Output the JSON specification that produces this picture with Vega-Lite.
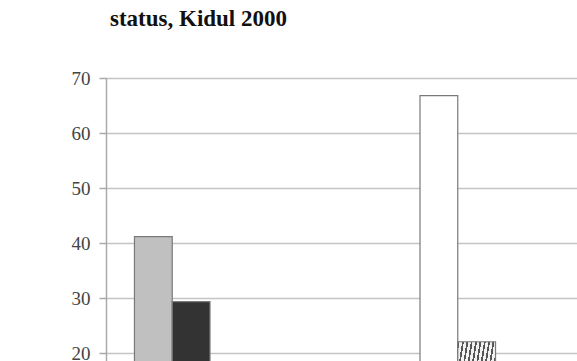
{
  "$schema": "https://vega.github.io/schema/vega-lite/v6.json",
  "autosize": "none",
  "width": 471,
  "height": 283,
  "padding": {"left": 106, "top": 78, "right": 0, "bottom": 0},
  "background": "white",
  "title": {
    "text": "status, Kidul 2000",
    "anchor": "start",
    "frame": "group",
    "font": "Liberation Serif",
    "fontSize": 23,
    "fontWeight": "bold",
    "color": "#111",
    "baseline": "alphabetic",
    "offset": 20,
    "dx": 4
  },
  "data": {
    "values": [
      {"group": "A", "series": "s1", "value": 41.2},
      {"group": "A", "series": "s2", "value": 29.4},
      {"group": "B", "series": "s3", "value": 66.8},
      {"group": "B", "series": "s4", "value": 22.1}
    ]
  },
  "config": {"view": {"stroke": null}},
  "encoding": {
    "x": {
      "field": "group",
      "type": "nominal",
      "scale": {"domain": ["A", "B", "C"], "range": [-1, 629], "paddingInner": 0, "paddingOuter": 0},
      "axis": null
    },
    "xOffset": {
      "field": "series",
      "type": "nominal",
      "scale": {"domain": ["s1", "s2", "s3", "s4"], "paddingInner": 0, "paddingOuter": 0.78}
    },
    "y": {
      "field": "value",
      "type": "quantitative",
      "scale": {"domain": [18.6, 70], "nice": false, "zero": false},
      "axis": {
        "title": null,
        "values": [20, 30, 40, 50, 60, 70],
        "grid": true,
        "gridColor": "#c4c4c4",
        "gridWidth": 1.5,
        "domainColor": "#aaaaaa",
        "domainWidth": 1.5,
        "tickColor": "#aaaaaa",
        "tickWidth": 1.5,
        "tickSize": 7,
        "labelPadding": 9,
        "labelFont": "Liberation Serif",
        "labelFontSize": 19,
        "labelColor": "#444444"
      }
    }
  },
  "layer": [
    {
      "transform": [{"filter": "datum.series != 's4'"}],
      "mark": {"type": "bar", "clip": true, "stroke": "#7a7a7a", "strokeWidth": 1.2},
      "encoding": {
        "color": {
          "field": "series",
          "type": "nominal",
          "scale": {"domain": ["s1", "s2", "s3", "s4"], "range": ["#c0c0c0", "#333333", "#ffffff", "#9a9a9a"]},
          "legend": null
        }
      }
    },
    {
      "transform": [{"filter": "datum.series == 's4'"}],
      "mark": {
        "type": "bar",
        "clip": true,
        "stroke": "#7a7a7a",
        "strokeWidth": 1.2,
        "fill": {
          "gradient": "linear",
          "x1": 0, "y1": 0, "x2": 1.2, "y2": 0.6,
          "stops": [
            {"offset": 0, "color": "#555555"}, {"offset": 0.031, "color": "#555555"}, {"offset": 0.031, "color": "#f2f2f2"}, {"offset": 0.077, "color": "#f2f2f2"},
            {"offset": 0.077, "color": "#555555"}, {"offset": 0.108, "color": "#555555"}, {"offset": 0.108, "color": "#f2f2f2"}, {"offset": 0.154, "color": "#f2f2f2"},
            {"offset": 0.154, "color": "#555555"}, {"offset": 0.185, "color": "#555555"}, {"offset": 0.185, "color": "#f2f2f2"}, {"offset": 0.231, "color": "#f2f2f2"},
            {"offset": 0.231, "color": "#555555"}, {"offset": 0.262, "color": "#555555"}, {"offset": 0.262, "color": "#f2f2f2"}, {"offset": 0.308, "color": "#f2f2f2"},
            {"offset": 0.308, "color": "#555555"}, {"offset": 0.339, "color": "#555555"}, {"offset": 0.339, "color": "#f2f2f2"}, {"offset": 0.385, "color": "#f2f2f2"},
            {"offset": 0.385, "color": "#555555"}, {"offset": 0.415, "color": "#555555"}, {"offset": 0.415, "color": "#f2f2f2"}, {"offset": 0.462, "color": "#f2f2f2"},
            {"offset": 0.462, "color": "#555555"}, {"offset": 0.492, "color": "#555555"}, {"offset": 0.492, "color": "#f2f2f2"}, {"offset": 0.538, "color": "#f2f2f2"},
            {"offset": 0.538, "color": "#555555"}, {"offset": 0.569, "color": "#555555"}, {"offset": 0.569, "color": "#f2f2f2"}, {"offset": 0.615, "color": "#f2f2f2"},
            {"offset": 0.615, "color": "#555555"}, {"offset": 0.646, "color": "#555555"}, {"offset": 0.646, "color": "#f2f2f2"}, {"offset": 0.692, "color": "#f2f2f2"},
            {"offset": 0.692, "color": "#555555"}, {"offset": 0.723, "color": "#555555"}, {"offset": 0.723, "color": "#f2f2f2"}, {"offset": 0.769, "color": "#f2f2f2"},
            {"offset": 0.769, "color": "#555555"}, {"offset": 0.8, "color": "#555555"}, {"offset": 0.8, "color": "#f2f2f2"}, {"offset": 0.846, "color": "#f2f2f2"},
            {"offset": 0.846, "color": "#555555"}, {"offset": 0.877, "color": "#555555"}, {"offset": 0.877, "color": "#f2f2f2"}, {"offset": 0.923, "color": "#f2f2f2"},
            {"offset": 0.923, "color": "#555555"}, {"offset": 0.954, "color": "#555555"}, {"offset": 0.954, "color": "#f2f2f2"}, {"offset": 1, "color": "#f2f2f2"}
          ]
        }
      }
    }
  ]
}
